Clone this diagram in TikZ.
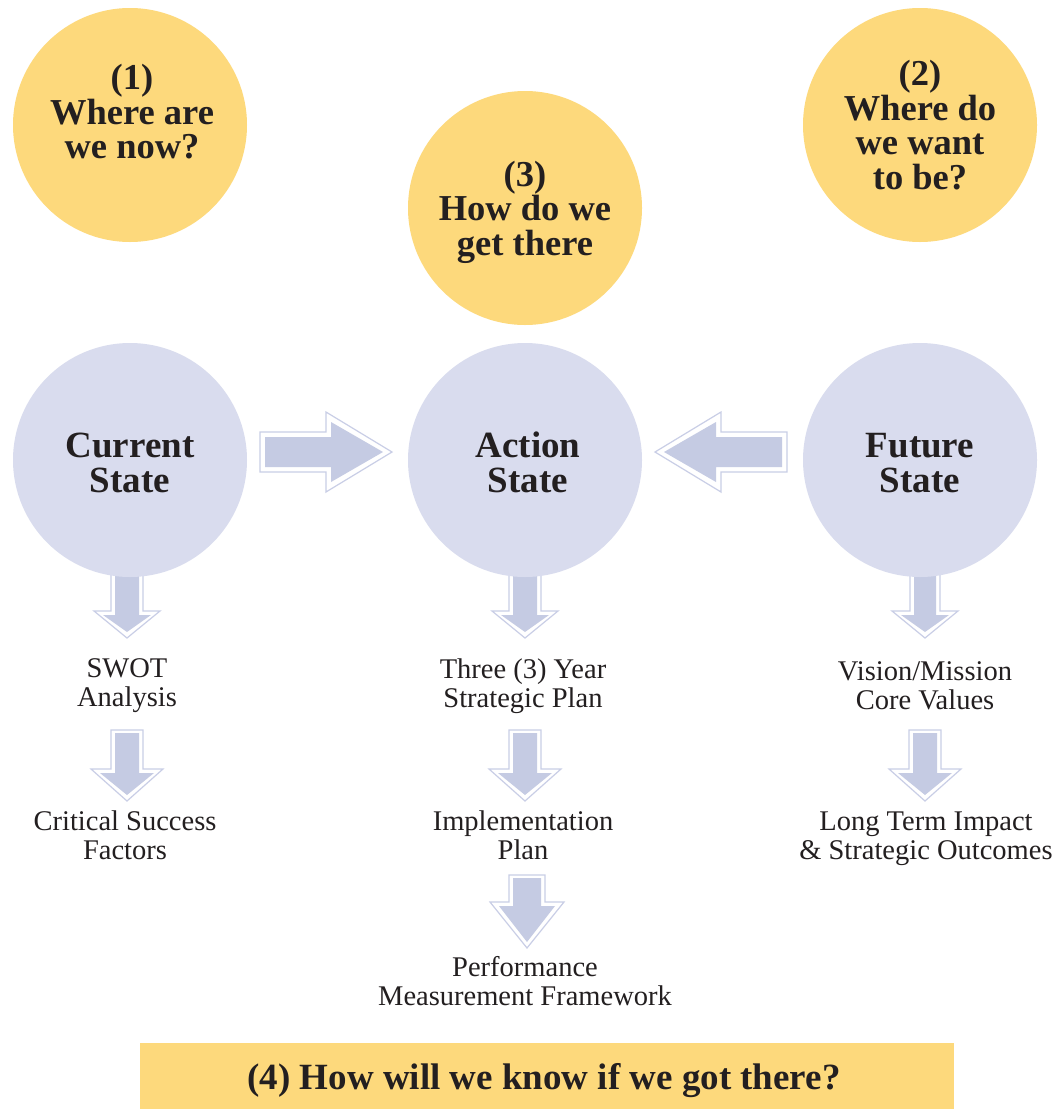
\documentclass[tikz,border=0pt]{standalone}
\usepackage{fontspec}
\setmainfont{Liberation Serif}
\definecolor{ylw}{HTML}{FDD97C}
\definecolor{lav}{HTML}{D9DCEE}
\definecolor{arrfill}{HTML}{C5CBE3}
\definecolor{arrline}{HTML}{C9CEE6}
\definecolor{ink}{HTML}{231F20}
\newcommand{\DownArr}[6]{% cx, top, base, apex, shaft half, head half
  \draw[arrow outer] (#1-#5,#2) -- (#1+#5,#2) -- (#1+#5,#3) -- (#1+#6,#3) -- (#1,#4) -- (#1-#6,#3) -- (#1-#5,#3) -- cycle;
  \fill[arrow inner] (#1-#5+4,#2+3) -- (#1+#5-4,#2+3) -- (#1+#5-4,#3+4) -- (#1+#6-9,#3+4) -- (#1,#4-6) -- (#1-#6+9,#3+4) -- (#1-#5+4,#3+4) -- cycle;
}
\begin{document}
\begin{tikzpicture}[x=1pt,y=-1pt,
  arrow outer/.style={draw=arrline, line width=1.2pt, fill=white, line join=miter},
  arrow inner/.style={fill=arrfill},
  qcircle/.style={circle, fill=ylw, minimum size=234pt, inner sep=0pt},
  scircle/.style={circle, fill=lav, minimum size=234pt, inner sep=0pt},
  qtext/.style={align=center, text=ink, inner sep=0pt, font=\bfseries\fontsize{36.5}{34.5}\selectfont},
  stext/.style={align=center, text=ink, inner sep=0pt, font=\bfseries\fontsize{37}{35}\selectfont},
  lbl/.style={align=center, text=ink, inner sep=0pt, font=\fontsize{28.5}{29}\selectfont},
  banner/.style={fill=ylw, minimum width=814pt, minimum height=66pt, inner sep=0pt},
  btext/.style={text=ink, inner sep=0pt, font=\bfseries\fontsize{37}{36}\selectfont}
]
\useasboundingbox (0,0) rectangle (1059,1109);
\fill[white] (0,0) rectangle (1059,1109);

% down arrows (drawn first; circles overlap their tops)
\DownArr{127}{568}{611}{638}{16}{33}
\DownArr{525}{568}{611}{638}{16}{33}
\DownArr{925}{568}{611}{638}{15}{33}
\DownArr{127}{730}{769}{801}{16}{36}
\DownArr{525}{730}{769}{801}{16}{36}
\DownArr{925}{730}{769}{801}{16}{36}
\DownArr{527}{875}{902}{948}{18}{37}

% question circles
\node[qcircle] (q1) at (130,125) {};
\node[qcircle] (q3) at (525,208) {};
\node[qcircle] (q2) at (920,125) {};
\node[qtext] (q1t) at (132,112) {(1)\\Where are\\we now?};
\node[qtext] (q3t) at (525,212) {(3)\\How do we\\get there};
\node[qtext] (q2t) at (920,125) {(2)\\Where do\\we want\\to be?};

% state circles
\node[scircle] (cur) at (130,460) {};
\node[scircle] (act) at (525,460) {};
\node[scircle] (fut) at (920,460) {};
\node[stext] (curt) at (130,463) {Current\\State};
\node[stext] (actt) at (528,462) {Action\\State};
\node[stext] (futt) at (920,463) {Future\\State};

% horizontal arrows
\draw[arrow outer] (260,432) -- (326,432) -- (326,412) -- (392,452) -- (326,492) -- (326,472) -- (260,472) -- cycle;
\fill[arrow inner] (265,437) -- (331,437) -- (331,422) -- (383,452) -- (331,482) -- (331,467) -- (265,467) -- cycle;
\draw[arrow outer] (787,432) -- (721,432) -- (721,412) -- (655,452) -- (721,492) -- (721,472) -- (787,472) -- cycle;
\fill[arrow inner] (782,437) -- (716,437) -- (716,422) -- (664,452) -- (716,482) -- (716,467) -- (782,467) -- cycle;

% labels
\node[lbl] (swot) at (127,686) {SWOT\\Analysis};
\node[lbl] (csf) at (125,835) {Critical Success\\Factors};
\node[lbl] (three) at (523,686) {Three (3) Year\\Strategic Plan};
\node[lbl] (impl) at (523,835) {Implementation\\Plan};
\node[lbl] (perf) at (525,981.5) {Performance\\Measurement Framework};
\node[lbl] (vis) at (925,686) {Vision/Mission\\Core Values};
\node[lbl] (lt) at (926,839) {Long Term Impact\\\& Strategic Outcomes};

% banner
\node[banner] (ban) at (547,1076) {};
\node[btext] (bant) at (544,1081) {(4) How will we know if we got there?};
\end{tikzpicture}
\end{document}
